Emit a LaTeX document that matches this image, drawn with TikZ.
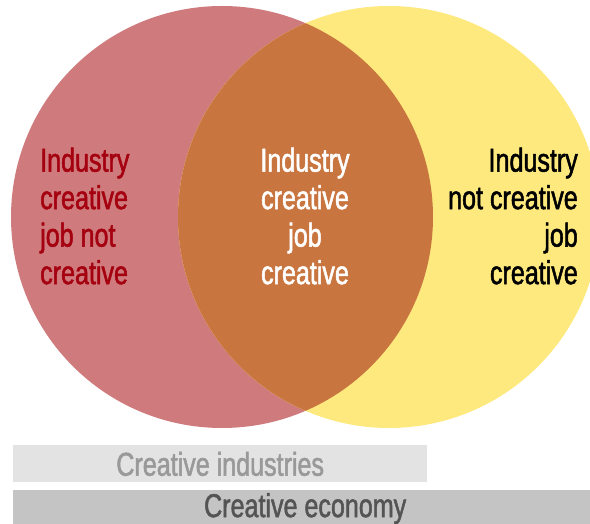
\documentclass[tikz,border=0pt]{standalone}
\usepackage{fontspec}
\newfontfamily\narrowfont[FakeStretch=0.76,FakeBold=1.5]{Liberation Sans}
\usetikzlibrary{positioning}
\definecolor{vennred}{HTML}{CF7A7C}
\definecolor{vennyellow}{HTML}{FDE97E}
\definecolor{vennorange}{HTML}{C97540}
\definecolor{textred}{HTML}{A5000F}
\definecolor{barlight}{HTML}{E3E3E3}
\definecolor{bardark}{HTML}{C4C4C4}
\tikzset{
  every node/.append style={font=\narrowfont\fontsize{33}{37.5}\selectfont},
}
\tikzset{
  vennlabel/.style={inner sep=0pt},
  bar/.style={rectangle, draw=none, inner sep=0pt, minimum height=37pt,
              text height=24pt, text depth=0pt}
}

\begin{document}
\begin{tikzpicture}[x=1pt, y=1pt]
\useasboundingbox (0,0) rectangle (590,524);

% Two sets
\coordinate (industry) at (222,307);
\coordinate (job) at (389,307);
\fill[vennred] (industry) circle (211);
\fill[vennyellow] (job) circle (211);
\begin{scope}
  \clip (industry) circle (211);
  \fill[vennorange] (job) circle (211);
\end{scope}

% Region texts
\node[vennlabel, text=textred, align=left, anchor=north west] (left) at (40,376.5)
  {Industry\\creative\\job not\\creative};
\node[vennlabel, text=white, align=center, anchor=north] (middle) at (305,376.5)
  {Industry\\creative\\job\\creative};
\node[vennlabel, text=black, align=right, anchor=north east] (right) at (578,376.5)
  {Industry\\not creative\\job\\creative};

% Bars underneath
\node[bar, fill=barlight, text=black!40, minimum width=414pt, anchor=north west] (industries) at (13,79)
  {Creative industries};
\node[bar, fill=bardark, text=black!67, minimum width=584pt, text depth=6pt,
      below=7pt of industries.south west, anchor=north west] (economy)
  {Creative economy};

\end{tikzpicture}
\end{document}
